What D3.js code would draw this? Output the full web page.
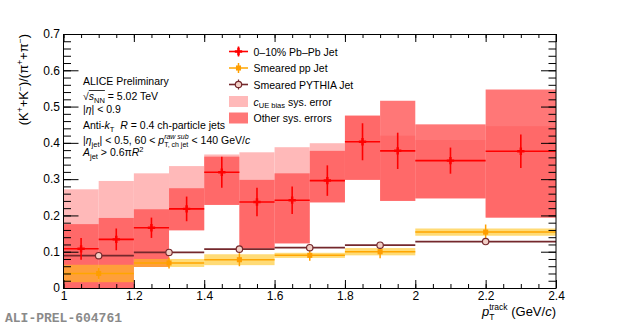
<!DOCTYPE html>
<html>
<head>
<meta charset="utf-8">
<script src="https://cdn.jsdelivr.net/npm/d3@7"></script>
<style>
body{margin:0;background:#fff;}
svg text{font-family:"Liberation Sans",Arial,Helvetica,sans-serif;white-space:pre;}
</style>
</head>
<body>
<div id="chart"></div>
<script>
// Pb-Pb jets, 0-10%: bin edges, ratio, stat error, other sys box (low/high), c_UE bias box top
var pbpbEdges=[1.0,1.1,1.2,1.3,1.4,1.5,1.6,1.7,1.8,1.9,2.0,2.2,2.4];
var pbpbRatio=[0.108,0.134,0.166,0.218,0.319,0.237,0.242,0.296,0.403,0.378,0.351,0.377];
var pbpbStat=[0.030,0.030,0.028,0.034,0.043,0.039,0.038,0.042,0.051,0.050,0.036,0.046];
var pbpbSysLow=[0.0,0.0,0.058,0.159,0.229,0.109,0.123,0.236,0.298,0.240,0.247,0.194];
var pbpbSysHigh=[0.176,0.193,0.217,0.275,0.362,0.298,0.316,0.378,0.475,0.516,0.451,0.547];
var pbpbUeHigh=[0.272,0.295,0.316,0.336,0.368,0.374,0.388,0.399,0.475,0.420,0.408,0.446];

// smeared pp and PYTHIA references (wider bins)
var refEdges=[1.0,1.2,1.4,1.6,1.8,2.0,2.4];
var ppRatio=[0.040,0.069,0.078,0.090,0.100,0.154];
var ppStat=[0.015,0.015,0.018,0.015,0.018,0.021];
var ppSys=[0.024,0.011,0.015,0.007,0.010,0.010];
var pythiaRatio=[0.089,0.098,0.107,0.111,0.118,0.128];

var xTicks=[1,1.2,1.4,1.6,1.8,2,2.2,2.4];
var yTicks=[0,0.1,0.2,0.3,0.4,0.5,0.6,0.7];

var width=620,height=328;
var frame={left:63.5,right:556,top:34,bottom:288};

var svg=d3.select('#chart').append('svg')
	.attr('width',width)
	.attr('height',height);

var x=d3.scaleLinear().domain([1,2.4]).range([frame.left,frame.right]);
var y=d3.scaleLinear().domain([0,0.7]).range([frame.bottom,frame.top]);

// text with italics, sub/superscripts; parts flagged "hold" share x with the next part
function richText(g,x0,y0,parts,size,anchorEnd){
	var t=g.append('text').attr('x',x0).attr('y',y0).style('font-size',size+'px');
	var cx=0,held=0,marks=[];
	parts.forEach(function(p){
		var sp=t.append('tspan')
			.attr('x',x0+cx)
			.attr('y',y0+(p.dy||0))
			.style('font-size',(p.s||size)+'px')
			.text(p.t);
		if(p.it) sp.style('font-style','italic');
		var w=sp.node().getComputedTextLength();
		marks.push(x0+cx);
		if(p.hold){held=w;}
		else{cx+=Math.max(w,held);held=0;}
		marks.push(x0+cx);
	});
	if(anchorEnd) t.attr('transform','translate('+(-cx)+',0)');
	return {width:cx,marks:marks};
}

var plot=svg.append('g');

// c_UE bias sys. boxes
plot.selectAll('.ue')
	.data(pbpbRatio)
	.enter()
	.append('rect')
	.attr('class','ue')
	.attr('x',function(d,i){return x(pbpbEdges[i])})
	.attr('width',function(d,i){return x(pbpbEdges[i+1])-x(pbpbEdges[i])})
	.attr('y',function(d,i){return y(pbpbUeHigh[i])})
	.attr('height',function(d,i){return y(pbpbSysLow[i])-y(pbpbUeHigh[i])})
	.attr('fill','#ffb9b9');

// other sys. boxes
plot.selectAll('.sys')
	.data(pbpbRatio)
	.enter()
	.append('rect')
	.attr('class','sys')
	.attr('x',function(d,i){return x(pbpbEdges[i])})
	.attr('width',function(d,i){return x(pbpbEdges[i+1])-x(pbpbEdges[i])})
	.attr('y',function(d,i){return y(pbpbSysHigh[i])})
	.attr('height',function(d,i){return y(pbpbSysLow[i])-y(pbpbSysHigh[i])})
	.attr('fill','#ff5555')
	.attr('fill-opacity',0.8);

// pp sys. bands
plot.selectAll('.ppsys')
	.data(ppRatio)
	.enter()
	.append('rect')
	.attr('class','ppsys')
	.attr('x',function(d,i){return x(refEdges[i])})
	.attr('width',function(d,i){return x(refEdges[i+1])-x(refEdges[i])})
	.attr('y',function(d,i){return y(d+ppSys[i])})
	.attr('height',function(d,i){return y(d-ppSys[i])-y(d+ppSys[i])})
	.attr('fill','#ffc31a')
	.attr('fill-opacity',0.6);

// PYTHIA
plot.selectAll('.pyline')
	.data(pythiaRatio)
	.enter()
	.append('line')
	.attr('x1',function(d,i){return x(refEdges[i])})
	.attr('x2',function(d,i){return x(refEdges[i+1])})
	.attr('y1',function(d){return y(d)})
	.attr('y2',function(d){return y(d)})
	.attr('stroke','#74282c')
	.attr('stroke-width',1.8);

// pp lines and points
plot.selectAll('.ppline')
	.data(ppRatio)
	.enter()
	.append('line')
	.attr('x1',function(d,i){return x(refEdges[i])})
	.attr('x2',function(d,i){return x(refEdges[i+1])})
	.attr('y1',function(d){return y(d)})
	.attr('y2',function(d){return y(d)})
	.attr('stroke','#ffa600')
	.attr('stroke-width',1.5);
plot.selectAll('.ppstat')
	.data(ppRatio)
	.enter()
	.append('line')
	.attr('x1',function(d,i){return x((refEdges[i]+refEdges[i+1])/2)})
	.attr('x2',function(d,i){return x((refEdges[i]+refEdges[i+1])/2)})
	.attr('y1',function(d,i){return y(d-ppStat[i])})
	.attr('y2',function(d,i){return y(d+ppStat[i])})
	.attr('stroke','#ffa000')
	.attr('stroke-width',1.5);
plot.selectAll('.ppmark')
	.data(ppRatio)
	.enter()
	.append('path')
	.attr('d',d3.symbol().type(d3.symbolSquare).size(26))
	.attr('transform',function(d,i){return 'translate('+x((refEdges[i]+refEdges[i+1])/2)+','+y(d)+')'})
	.attr('fill','#ff9d00');

plot.selectAll('.pymark')
	.data(pythiaRatio)
	.enter()
	.append('circle')
	.attr('cx',function(d,i){return x((refEdges[i]+refEdges[i+1])/2)})
	.attr('cy',function(d){return y(d)})
	.attr('r',3.2)
	.attr('fill','#f2cfc6')
	.attr('stroke','#74282c')
	.attr('stroke-width',1.2);

// Pb-Pb points with stat errors
plot.selectAll('.xerr')
	.data(pbpbRatio)
	.enter()
	.append('line')
	.attr('x1',function(d,i){return x(pbpbEdges[i])})
	.attr('x2',function(d,i){return x(pbpbEdges[i+1])})
	.attr('y1',function(d){return y(d)})
	.attr('y2',function(d){return y(d)})
	.attr('stroke','#ff0000')
	.attr('stroke-width',1.6);
plot.selectAll('.yerr')
	.data(pbpbRatio)
	.enter()
	.append('line')
	.attr('x1',function(d,i){return x((pbpbEdges[i]+pbpbEdges[i+1])/2)})
	.attr('x2',function(d,i){return x((pbpbEdges[i]+pbpbEdges[i+1])/2)})
	.attr('y1',function(d,i){return y(d-pbpbStat[i])})
	.attr('y2',function(d,i){return y(d+pbpbStat[i])})
	.attr('stroke','#ff0000')
	.attr('stroke-width',1.6);
plot.selectAll('.pbmark')
	.data(pbpbRatio)
	.enter()
	.append('path')
	.attr('d',d3.symbol().type(d3.symbolCross).size(30))
	.attr('transform',function(d,i){return 'translate('+x((pbpbEdges[i]+pbpbEdges[i+1])/2)+','+y(d)+')'})
	.attr('fill','#ff0000');

/***** axes, ticks pointing inward ******/
var xMinor=d3.range(1,2.4001,0.05);
var yMinor=d3.range(0,0.7001,0.02);

svg.append('g')
	.attr('transform','translate(0,'+frame.bottom+')')
	.call(d3.axisBottom(x).tickValues(xMinor).tickSize(-4).tickFormat(''));
svg.append('g')
	.attr('transform','translate(0,'+frame.bottom+')')
	.call(d3.axisBottom(x).tickValues(xTicks).tickSize(-8).tickPadding(3).tickFormat(d3.format('~g')));
svg.append('g')
	.attr('transform','translate(0,'+frame.top+')')
	.call(d3.axisBottom(x).tickValues(xMinor).tickSize(4).tickFormat(''));
svg.append('g')
	.attr('transform','translate(0,'+frame.top+')')
	.call(d3.axisBottom(x).tickValues(xTicks).tickSize(8).tickFormat(''));

svg.append('g')
	.attr('transform','translate('+frame.left+',0)')
	.call(d3.axisLeft(y).tickValues(yMinor).tickSize(-7.5).tickFormat(''));
svg.append('g')
	.attr('transform','translate('+frame.left+',0)')
	.call(d3.axisLeft(y).tickValues(yTicks).tickSize(-15).tickPadding(3.5)
		.tickFormat(function(d){return d===0?'0':d3.format('.1f')(d)}));
svg.append('g')
	.attr('transform','translate('+frame.right+',0)')
	.call(d3.axisLeft(y).tickValues(yMinor).tickSize(7.5).tickFormat(''));
svg.append('g')
	.attr('transform','translate('+frame.right+',0)')
	.call(d3.axisLeft(y).tickValues(yTicks).tickSize(15).tickFormat(''));

svg.selectAll('.domain').remove();
svg.selectAll('.tick text').style('font-size','12px').attr('fill','#000');
svg.append('rect')
	.attr('x',frame.left).attr('y',frame.top+0.5)
	.attr('width',frame.right-frame.left).attr('height',frame.bottom-frame.top)
	.attr('fill','none').attr('stroke','#000');

// axis titles
var yt=svg.append('g').attr('transform','translate(28,'+frame.top+') rotate(-90)');
richText(yt,0,0,[
	{t:'(K'},{t:'+',s:8.5,dy:-5.5},{t:'+K'},{t:'\u2212',s:8.5,dy:-5.5},
	{t:')/(\u03c0'},{t:'+',s:8.5,dy:-5.5},{t:'+\u03c0'},{t:'\u2212',s:8.5,dy:-5.5},{t:')'}
],13,true);

richText(svg,frame.right,316,[
	{t:'p',it:true},{t:'T',s:8.5,dy:3.5,hold:true},{t:'track',s:8.5,dy:-6},
	{t:' (GeV/'},{t:'c',it:true},{t:')'}
],13,true);

// description block
var info=svg.append('g');
var tx=83,fs=10.5;
richText(info,tx,85,[{t:'ALICE Preliminary'}],fs);
var sq=richText(info,tx,100,[{t:'\u221a'},{t:'s',it:true},{t:'NN',s:7.5,dy:2.5},{t:' = 5.02 TeV'}],fs);
info.append('line')
	.attr('x1',sq.marks[1]).attr('x2',sq.marks[5])
	.attr('y1',100-9.5).attr('y2',100-9.5)
	.attr('stroke','#000').attr('stroke-width',0.8);
richText(info,tx,113,[{t:'|'},{t:'\u03b7',it:true},{t:'| < 0.9'}],fs);
richText(info,tx,129,[{t:'Anti-'},{t:'k',it:true},{t:'T',s:7.5,dy:2.5},{t:'  '},{t:'R',it:true},{t:' = 0.4 ch-particle jets'}],fs);
richText(info,tx,144,[{t:'|'},{t:'\u03b7',it:true},{t:'jet',s:7.5,dy:2.5},{t:'| < 0.5, 60 < '},
	{t:'p',it:true},{t:'T, ch jet',s:7,dy:3,hold:true},{t:'raw sub',s:7,it:true,dy:-5},
	{t:' < 140 GeV/'},{t:'c',it:true}],fs);
richText(info,tx,156,[{t:'A',it:true},{t:'jet',s:7.5,dy:2.5},{t:' > 0.6\u03c0'},{t:'R',it:true},{t:'2',s:7.5,dy:-4.5}],fs);

// legend
var leg=svg.append('g');
var lx0=229,lx1=248,ltx=253.5;
var rows=[51.5,68,84.5,101.5,118];

leg.append('line').attr('x1',lx0).attr('x2',lx1).attr('y1',rows[0]).attr('y2',rows[0]).attr('stroke','#ff0000').attr('stroke-width',1.6);
leg.append('line').attr('x1',(lx0+lx1)/2).attr('x2',(lx0+lx1)/2).attr('y1',rows[0]-5).attr('y2',rows[0]+5).attr('stroke','#ff0000').attr('stroke-width',1.6);
leg.append('path').attr('d',d3.symbol().type(d3.symbolCross).size(30)).attr('transform','translate('+(lx0+lx1)/2+','+rows[0]+')').attr('fill','#ff0000');

leg.append('line').attr('x1',lx0).attr('x2',lx1).attr('y1',rows[1]).attr('y2',rows[1]).attr('stroke','#ffa600').attr('stroke-width',1.5);
leg.append('line').attr('x1',(lx0+lx1)/2).attr('x2',(lx0+lx1)/2).attr('y1',rows[1]-5).attr('y2',rows[1]+5).attr('stroke','#ffa000').attr('stroke-width',1.5);
leg.append('path').attr('d',d3.symbol().type(d3.symbolSquare).size(26)).attr('transform','translate('+(lx0+lx1)/2+','+rows[1]+')').attr('fill','#ff9d00');

leg.append('line').attr('x1',lx0).attr('x2',lx1).attr('y1',rows[2]).attr('y2',rows[2]).attr('stroke','#74282c').attr('stroke-width',1.6);
leg.append('line').attr('x1',(lx0+lx1)/2).attr('x2',(lx0+lx1)/2).attr('y1',rows[2]-5).attr('y2',rows[2]+5).attr('stroke','#74282c').attr('stroke-width',1.2);
leg.append('circle').attr('cx',(lx0+lx1)/2).attr('cy',rows[2]).attr('r',3.2).attr('fill','#f2cfc6').attr('stroke','#74282c').attr('stroke-width',1.2);

leg.append('rect').attr('x',lx0).attr('y',rows[3]-5.5).attr('width',lx1-lx0).attr('height',11).attr('fill','#ffb9b9');
leg.append('rect').attr('x',lx0).attr('y',rows[4]-5.5).attr('width',lx1-lx0).attr('height',11).attr('fill','#ff5555').attr('fill-opacity',0.8);

richText(leg,ltx,rows[0]+4,[{t:'0\u201310% Pb\u2013Pb Jet'}],fs);
richText(leg,ltx,rows[1]+4,[{t:'Smeared pp Jet'}],fs);
richText(leg,ltx,rows[2]+4,[{t:'Smeared PYTHIA Jet'}],fs);
richText(leg,ltx,rows[3]+4,[{t:'c',it:true},{t:'UE bias',s:7.5,dy:2.5},{t:' sys. error'}],fs);
richText(leg,ltx,rows[4]+4,[{t:'Other sys. errors'}],fs);

svg.append('text')
	.attr('x',5).attr('y',322)
	.style('font-family','"Liberation Mono","DejaVu Sans Mono",monospace')
	.style('font-size','13px')
	.style('font-weight','bold')
	.attr('fill','#8a8a8a')
	.text('ALI-PREL-604761');
</script>
</body>
</html>
